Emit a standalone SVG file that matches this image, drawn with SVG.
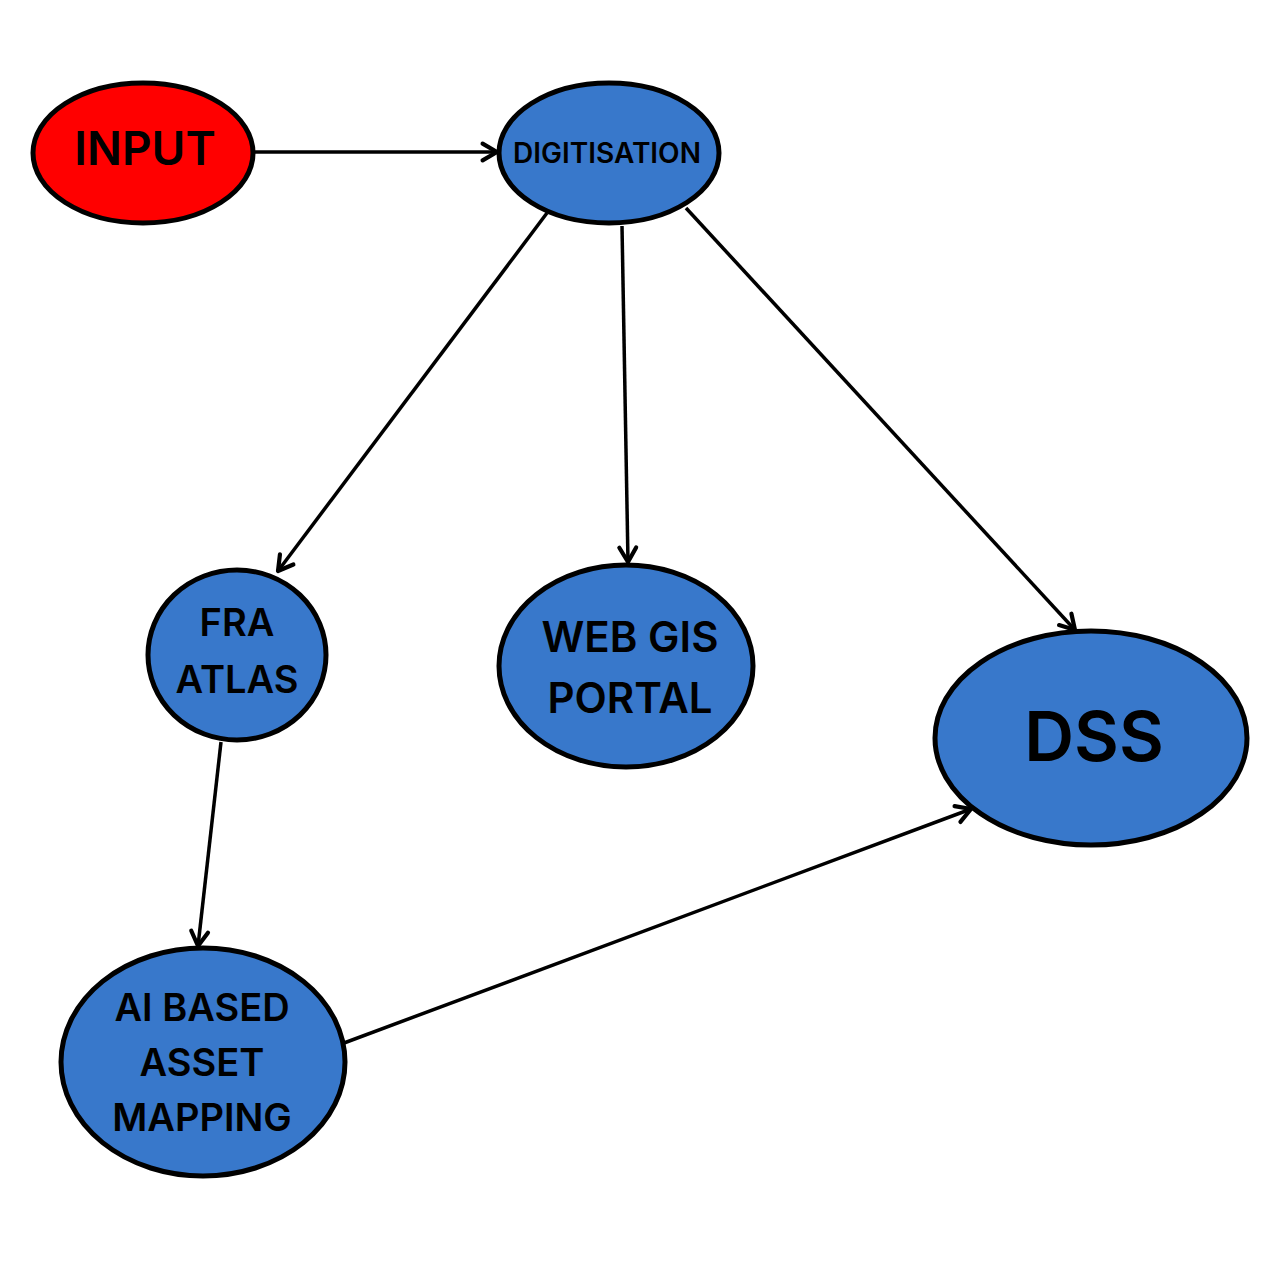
<svg xmlns="http://www.w3.org/2000/svg" width="1280" height="1280" viewBox="0 0 1280 1280">
<style>
.node ellipse{stroke:#000;stroke-width:5}
.blue{fill:#3878CB}
.red{fill:#FF0000}
text{font-family:Inter,"Liberation Sans",sans-serif;font-weight:600;fill:#000;text-anchor:middle;dominant-baseline:central}
.edge{stroke:#000;stroke-width:3.5;fill:none;marker-end:url(#arr)}
</style>
<defs>
<marker id="arr" markerUnits="userSpaceOnUse" markerWidth="24" markerHeight="24" viewBox="-2 -2 20 20" refX="14" refY="8" orient="auto">
<path d="M2,1 L14,8 L2,15" fill="none" stroke="#000" stroke-width="3.5" stroke-linecap="round" stroke-linejoin="round"/>
</marker>
</defs>
<rect width="1280" height="1280" fill="#fff"/>
<g id="connectors">
<line class="edge" x1="253" y1="152" x2="497" y2="152"/>
<line class="edge" x1="547" y1="213" x2="278" y2="571"/>
<line class="edge" x1="622" y1="226" x2="628" y2="562"/>
<line class="edge" x1="686" y1="208" x2="1075" y2="630"/>
<line class="edge" x1="221" y1="742" x2="198" y2="946"/>
<line class="edge" x1="344" y1="1043" x2="971" y2="809"/>
</g>
<g id="input" class="node">
<ellipse class="red" cx="143" cy="153" rx="110" ry="70"/>
<text x="145" y="148" font-size="46">INPUT</text>
</g>
<g id="digitisation" class="node">
<ellipse class="blue" cx="609" cy="153" rx="110" ry="70"/>
<text x="607" y="153" font-size="28">DIGITISATION</text>
</g>
<g id="fra-atlas" class="node">
<ellipse class="blue" cx="237" cy="655" rx="89" ry="85"/>
<text x="237" y="622" font-size="38">FRA</text>
<text x="237" y="679" font-size="38">ATLAS</text>
</g>
<g id="web-gis-portal" class="node">
<ellipse class="blue" cx="626" cy="666" rx="127" ry="101"/>
<text x="630" y="636" font-size="42">WEB GIS</text>
<text x="630" y="697" font-size="42">PORTAL</text>
</g>
<g id="dss" class="node">
<ellipse class="blue" cx="1091" cy="738" rx="156" ry="107"/>
<text x="1094" y="736" font-size="69">DSS</text>
</g>
<g id="ai-asset-mapping" class="node">
<ellipse class="blue" cx="203" cy="1062" rx="142" ry="114"/>
<text x="202" y="1007" font-size="38">AI BASED</text>
<text x="202" y="1062" font-size="38">ASSET</text>
<text x="202" y="1117" font-size="38">MAPPING</text>
</g>
</svg>
